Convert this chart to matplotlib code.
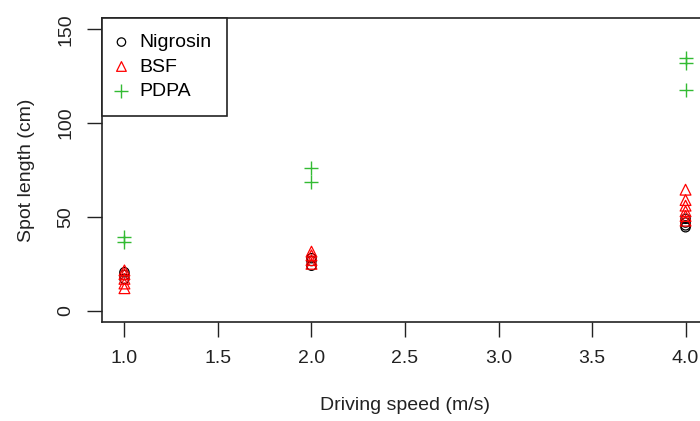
import matplotlib
matplotlib.use('Agg')
import matplotlib.pyplot as plt

plt.rcParams['font.family'] = ['Liberation Sans', 'DejaVu Sans']

# values
nig_x = [1, 1, 1, 2, 2, 2, 4, 4, 4, 4]
nig_y = [17, 19, 20.5, 24, 26.5, 28, 44.5, 45.5, 47, 49]

bsf_x = [1, 1, 1, 1, 1, 2, 2, 2, 2, 4, 4, 4, 4, 4, 4]
bsf_y = [12, 14.5, 17, 19.5, 21.5, 25, 27, 29.5, 31.5, 48, 50.5, 53, 56, 59, 64.5]

pdpa_x = [1, 1, 2, 2, 4, 4, 4]
pdpa_y = [36.5, 39.5, 68.5, 76, 117.5, 132, 134.5]

xticks = [1.0, 1.5, 2.0, 2.5, 3.0, 3.5, 4.0]
yticks = [0, 50, 100, 150]

fig = plt.figure(figsize=(7, 4.21), dpi=100)
ax = fig.add_axes([102/700, 99/421, 606/700, 304/421])

ax.scatter(nig_x, nig_y, s=45, marker='o', facecolors='none', edgecolors='black',
           linewidths=0.9, label='Nigrosin')
ax.scatter(bsf_x, bsf_y, s=60, marker='^', facecolors='none', edgecolors='#FF0000',
           linewidths=0.9, label='BSF')
ax.scatter(pdpa_x, pdpa_y, s=110, marker='+', color='#33BB33',
           linewidths=1.0, label='PDPA')

ax.set_xlim(0.88, 4.12)
ax.set_ylim(-6, 156)
ax.set_xticks(xticks)
ax.set_xticklabels(['%.1f' % t for t in xticks])
ax.set_yticks(yticks)
ax.set_yticklabels([str(t) for t in yticks], rotation=90, va='center')
ax.tick_params(direction='out', length=11, width=1.0, color='#222222',
               labelsize=14, pad=9, labelcolor='#222222')
for sp in ax.spines.values():
    sp.set_linewidth(1.2)
    sp.set_color('#222222')

ax.set_xlabel('Driving speed (m/s)', fontsize=14, labelpad=22, color='#222222')
ax.set_ylabel('Spot length (cm)', fontsize=14, labelpad=16, color='#222222')

leg = ax.legend(loc='upper left', borderaxespad=0, fancybox=False, framealpha=1,
                edgecolor='#222222', fontsize=14, handletextpad=0.7,
                borderpad=0.8, labelspacing=0.35, handlelength=0.4,
                scatterpoints=1, markerscale=0.9)
leg.get_frame().set_linewidth(1.2)

fig.savefig('out.png', dpi=100)
